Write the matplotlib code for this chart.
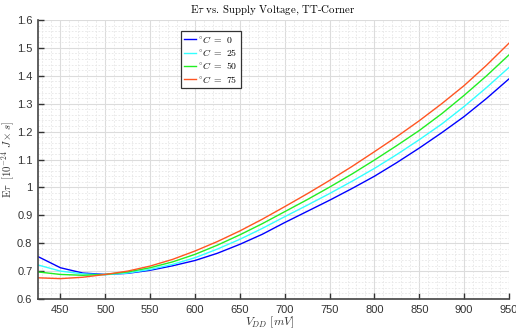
import numpy as np
import matplotlib
matplotlib.use("Agg")
import matplotlib.pyplot as plt
from matplotlib.ticker import MultipleLocator

plt.rcParams['mathtext.fontset'] = 'cm'
plt.rcParams['font.family'] = ['Liberation Sans', 'DejaVu Sans']

# supply voltage sweep (mV) and energy-delay values (1e-24 J*s)
vdd = [425, 450, 475, 500, 525, 550, 575, 600, 625, 650, 675, 700,
       725, 750, 775, 800, 825, 850, 875, 900, 925, 950]
e_0c = [0.752, 0.712, 0.693, 0.688, 0.692, 0.703, 0.719, 0.738, 0.764, 0.796,
        0.832, 0.874, 0.914, 0.954, 0.996, 1.040, 1.089, 1.141, 1.196, 1.254,
        1.319, 1.389]
e_25c = [0.722, 0.700, 0.690, 0.687, 0.693, 0.706, 0.724, 0.748, 0.779, 0.814,
         0.853, 0.895, 0.936, 0.978, 1.022, 1.068, 1.118, 1.171, 1.227, 1.290,
         1.358, 1.430]
e_50c = [0.697, 0.688, 0.685, 0.688, 0.697, 0.712, 0.733, 0.760, 0.793, 0.830,
         0.870, 0.913, 0.956, 1.001, 1.048, 1.098, 1.150, 1.204, 1.264, 1.330,
         1.400, 1.475]
e_75c = [0.676, 0.673, 0.678, 0.688, 0.700, 0.718, 0.742, 0.772, 0.806, 0.844,
         0.886, 0.931, 0.977, 1.025, 1.075, 1.128, 1.182, 1.239, 1.300, 1.365,
         1.438, 1.517]
temps = [0, 25, 50, 75]
colors = ['#0000ff', '#33ffff', '#22ee22', '#ff5522']

fig = plt.figure(figsize=(5.16, 3.32), dpi=100)
ax = fig.add_axes([38 / 516, 1 - 299 / 332, 471 / 516, 279 / 332])

for t, e, c in zip(temps, [e_0c, e_25c, e_50c, e_75c], colors):
    ax.plot(vdd, e, color=c, lw=1.0, label=r'$^{\circ}C\ =\ %d$' % t)

ax.set_xlim(425, 950)
ax.set_ylim(0.6, 1.6)
ax.xaxis.set_major_locator(MultipleLocator(50))
ax.xaxis.set_minor_locator(MultipleLocator(10))
ax.yaxis.set_minor_locator(MultipleLocator(0.02))
ax.set_yticks(np.arange(0.6, 1.61, 0.1))
ax.set_yticklabels(['0.6', '0.7', '0.8', '0.9', '1', '1.1', '1.2', '1.3',
                    '1.4', '1.5', '1.6'])

ax.grid(which='major', color='#dcdcdc', lw=0.8)
ax.grid(which='minor', color='#e6e6e6', lw=0.6, ls=(0, (2, 2)))
ax.set_axisbelow(True)

for s in ['top', 'right']:
    ax.spines[s].set_visible(False)
for s in ['left', 'bottom']:
    ax.spines[s].set_color('#444444')
    ax.spines[s].set_linewidth(1.2)
ax.tick_params(which='major', direction='in', length=4, width=1.0,
               color='#333333', labelsize=8, labelcolor='#333333', pad=4)
ax.tick_params(which='minor', length=0)

# title and axis labels placed in figure pixels
fig.text(273 / 516, 1 - 10 / 332, r'E$\tau$ vs. Supply Voltage, TT-Corner',
         fontsize=7.8, family='cmr10', ha='center', va='center')
fig.text(270 / 516, 1 - 322 / 332, r'$V_{DD}\ [mV]$', fontsize=8.5,
         color='#333333', ha='center', va='center')
fig.text(8 / 516, 1 - 160 / 332, r'E$\tau\ \ [10^{-24}\ J \times s]$',
         fontsize=7.8, family='cmr10', color='#333333', rotation=90,
         ha='center', va='center')

leg = ax.legend(loc='upper left', bbox_to_anchor=(0.304, 0.962), fontsize=7,
                handlelength=1.2, handletextpad=0.25, borderpad=0.3,
                labelspacing=0.25, fancybox=False, framealpha=1,
                borderaxespad=0)
leg.get_frame().set_edgecolor('#333333')
leg.get_frame().set_linewidth(0.9)

fig.savefig('out.png', dpi=100)
